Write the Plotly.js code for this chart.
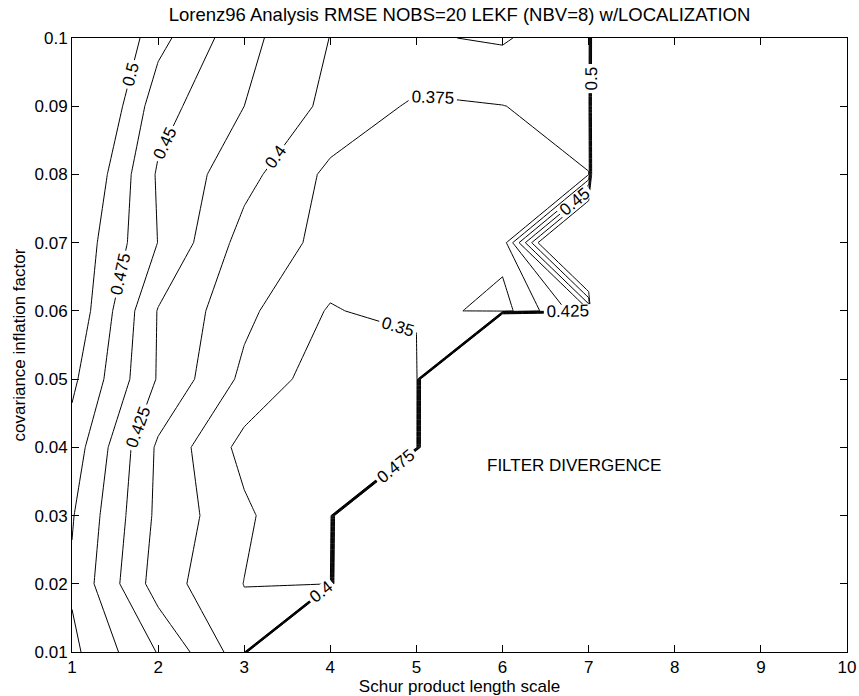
<!DOCTYPE html>
<html>
<head>
<meta charset="utf-8">
<script src="https://cdn.plot.ly/plotly-3.0.1.min.js"></script>
<style>html,body{margin:0;padding:0;background:#fff;}#chart{width:859px;height:696px;}</style>
</head>
<body>
<div id="chart"></div>
<script>
// Schur product length scale (x) and covariance inflation factor (y)
const lengthScale = [1, 2, 3, 4, 5, 6, 7, 8, 9, 10];
const inflation = [0.01, 0.02, 0.03, 0.04, 0.05, 0.06, 0.07, 0.08, 0.09, 0.10];
// value used where the filter diverged
const DIV = 4.0;
// analysis RMSE, one array per inflation factor (x = 1..10)
const rmse_001 = [0.481, 0.4236, 0.360, DIV, DIV, DIV, DIV, DIV, DIV, DIV];
const rmse_002 = [0.4714, 0.3878, 0.3495, 0.349, DIV, DIV, DIV, DIV, DIV, DIV];
const rmse_003 = [0.477, 0.3939, 0.355, 0.319, DIV, DIV, DIV, DIV, DIV, DIV];
const rmse_004 = [0.4894, 0.3956, 0.3418, 0.330, 0.330, DIV, DIV, DIV, DIV, DIV];
const rmse_005 = [0.5057, 0.4228, 0.369, 0.335, 0.325, DIV, DIV, DIV, DIV, DIV];
const rmse_006 = [0.521, 0.4236, 0.381, 0.3476, 0.3617, 0.340, 0.421, DIV, DIV, DIV];
const rmse_007 = [0.521, 0.4495, 0.390, 0.368, 0.362, 0.360, 0.700, DIV, DIV, DIV];
const rmse_008 = [0.537, 0.4468, 0.4086, 0.369, 0.365, 0.368, 0.3745, DIV, DIV, DIV];
const rmse_009 = [0.557, 0.460, 0.425, 0.3936, 0.3707, 0.3745, 0.385, DIV, DIV, DIV];
const rmse_010 = [0.564, 0.483, 0.4328, 0.3995, 0.3973, 0.403, 0.378, DIV, DIV, DIV];
// contour levels
const levelStart = 0.35, levelEnd = 0.5, levelStep = 0.025;
const xTicks = [1, 2, 3, 4, 5, 6, 7, 8, 9, 10];
const yTicks = [0.01, 0.02, 0.03, 0.04, 0.05, 0.06, 0.07, 0.08, 0.09, 0.1];
const yTickText = ['0.01','0.02','0.03','0.04','0.05','0.06','0.07','0.08','0.09','0.1'];

const z = [rmse_001, rmse_002, rmse_003, rmse_004, rmse_005, rmse_006, rmse_007, rmse_008, rmse_009, rmse_010];
const FONT = 'Liberation Sans, Arial, Helvetica, sans-serif';
const FS = 17;

const trace = {
  type: 'contour',
  x: lengthScale,
  y: inflation,
  z: z,
  autocontour: false,
  contours: {
    start: levelStart, end: levelEnd, size: levelStep,
    coloring: 'lines',
    showlabels: true,
    labelfont: {family: FONT, size: FS, color: '#000'},
    labelformat: '.3~f'
  },
  colorscale: [[0, '#000'], [1, '#000']],
  showscale: false,
  line: {width: 1, smoothing: 0, color: '#000'},
  hoverinfo: 'skip'
};

const layout = {
  width: 859, height: 696,
  margin: {l: 72, r: 12, t: 38, b: 44},
  paper_bgcolor: '#fff', plot_bgcolor: '#fff',
  font: {family: FONT, size: FS, color: '#000'},
  showlegend: false,
  title: {text: 'Lorenz96 Analysis RMSE NOBS=20 LEKF (NBV=8) w/LOCALIZATION',
          font: {family: FONT, size: 18.5, color: '#000'},
          x: 0.5, xref: 'paper', xanchor: 'center', y: 0.979, yref: 'container', yanchor: 'middle'},
  xaxis: {
    range: [1, 10], tickvals: xTicks, ticks: 'inside', ticklen: 7, tickwidth: 1, tickcolor: '#000',
    showline: true, linecolor: '#000', linewidth: 1, mirror: 'ticks',
    showgrid: false, zeroline: false,
    tickfont: {family: FONT, size: FS, color: '#000'},
    title: {text: 'Schur product length scale', font: {family: FONT, size: FS, color: '#000'}, standoff: 0}
  },
  yaxis: {
    range: [0.01, 0.1], tickvals: yTicks, ticktext: yTickText, ticks: 'inside', ticklen: 7, tickwidth: 1, tickcolor: '#000',
    showline: true, linecolor: '#000', linewidth: 1, mirror: 'ticks',
    showgrid: false, zeroline: false,
    tickfont: {family: FONT, size: FS, color: '#000'},
    title: {text: 'covariance inflation factor', font: {family: FONT, size: FS, color: '#000'}, standoff: 4}
  },
  annotations: [{
    x: 6.83, y: 0.0373, xref: 'x', yref: 'y', text: 'FILTER DIVERGENCE', showarrow: false,
    font: {family: FONT, size: FS, color: '#000'}, xanchor: 'center', yanchor: 'middle'
  }]
};

Plotly.newPlot('chart', [trace], layout, {displayModeBar: false, staticPlot: true});
</script>
</body>
</html>
